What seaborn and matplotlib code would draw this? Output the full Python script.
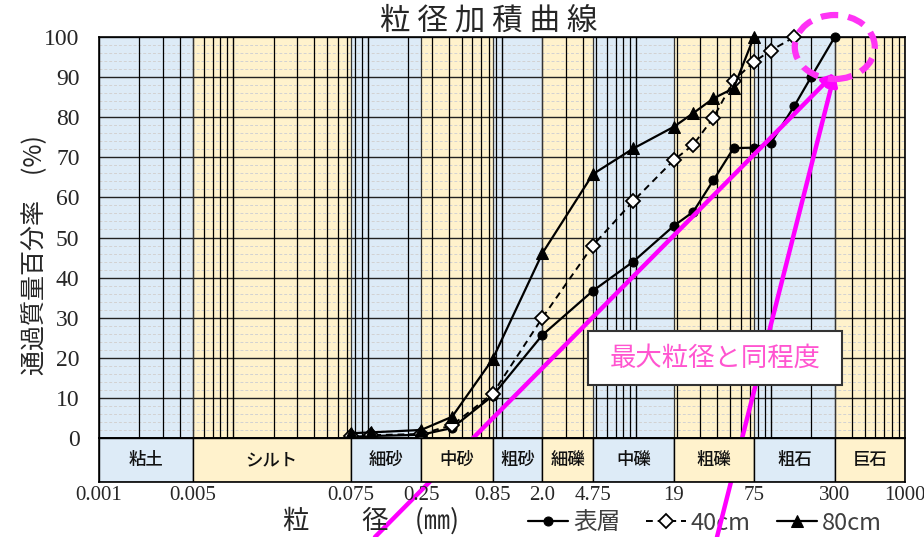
import matplotlib
matplotlib.use("Agg")
import matplotlib.pyplot as plt
import matplotlib.transforms as mtransforms
from matplotlib.patches import Ellipse, Rectangle
from matplotlib.ticker import LogLocator, MultipleLocator, NullFormatter, FixedLocator, FixedFormatter
import numpy as np
import pandas as pd
import seaborn as sns

# ---- data -------------------------------------------------------------
size_surface = [0.075, 0.106, 0.25, 0.425, 0.85, 2.0, 4.75, 9.5, 19, 26.5, 37.5, 53, 75, 100, 150, 200, 300]
pass_surface = [0.3, 0.5, 0.8, 2.5, 10.5, 25.7, 36.7, 44.0, 52.9, 56.4, 64.3, 72.3, 72.4, 73.5, 82.8, 90.0, 100]

size_40cm = [0.075, 0.106, 0.25, 0.425, 0.85, 2.0, 4.75, 9.5, 19, 26.5, 37.5, 53, 75, 100, 150]
pass_40cm = [0.5, 0.7, 1.0, 3.2, 11.0, 30.0, 48.0, 59.1, 69.3, 73.1, 79.9, 89.1, 93.8, 96.6, 100]

size_80cm = [0.075, 0.106, 0.25, 0.425, 0.85, 2.0, 4.75, 9.5, 19, 26.5, 37.5, 53, 75]
pass_80cm = [1.2, 1.4, 2.0, 5.3, 19.6, 46.1, 65.8, 72.2, 77.6, 81.0, 84.7, 87.2, 100]

series_names = ["表層", "40cm", "80cm"]

# soil classification bands
class_edges = [0.001, 0.005, 0.075, 0.25, 0.85, 2.0, 4.75, 19, 75, 300, 1000]
class_names = ["粘土", "シルト", "細砂", "中砂", "粗砂", "細礫", "中礫", "粗礫", "粗石", "巨石"]
edge_labels = ["0.001", "0.005", "0.075", "0.25", "0.85", "2.0", "4.75", "19", "75", "300", "1000"]

# ---- style ------------------------------------------------------------
sns.set_style("white")
plt.rcParams["font.family"] = ["Noto Sans CJK JP", "DejaVu Sans"]
SERIF = ["Liberation Serif", "DejaVu Serif"]

BLUE = "#DDEBF7"
YELLOW = "#FFF2CC"
band_colors = [BLUE if i % 2 == 0 else YELLOW for i in range(len(class_names))]
MAGENTA = "#FF00FF"

fig = plt.figure(figsize=(9.24, 5.37), dpi=100)
W, H = 924, 537
x0, x1 = 99, 905
y_top, y_zero, y_band = 37, 438, 482
ax = fig.add_axes([x0 / W, 1 - y_zero / H, (x1 - x0) / W, (y_zero - y_top) / H])
axb = fig.add_axes([x0 / W, 1 - y_band / H, (x1 - x0) / W, (y_band - y_zero) / H])

# ---- main chart -------------------------------------------------------
ax.set_xscale("log")
ax.set_xlim(class_edges[0], class_edges[-1])
ax.set_ylim(0, 100)

for lo, hi, c in zip(class_edges[:-1], class_edges[1:], band_colors):
    ax.axvspan(lo, hi, color=c, lw=0, zorder=0.1)

ax.xaxis.set_major_locator(LogLocator(base=10))
ax.xaxis.set_minor_locator(LogLocator(base=10, subs=np.arange(2, 10)))
ax.xaxis.set_minor_formatter(NullFormatter())
ax.yaxis.set_major_locator(MultipleLocator(10))
ax.yaxis.set_minor_locator(MultipleLocator(2))
ax.set_axisbelow(True)
# horizontal grid sits under the vertical log grid
ax.yaxis.set_zorder(0.3)
ax.xaxis.set_zorder(0.5)
ax.grid(which="minor", axis="y", color="#D2D2D2", lw=0.7, ls=(0, (3, 2)))
ax.grid(which="major", axis="y", color="#222222", lw=1.0)
ax.grid(which="major", axis="x", color="black", lw=1.0)
ax.grid(which="minor", axis="x", color="black", lw=0.9)
for e in class_edges[1:-1]:
    ax.axvline(e, color="#333333", lw=0.9, zorder=0.6)

ax.tick_params(axis="x", which="both", length=0, labelbottom=False)
ax.tick_params(axis="y", which="both", length=0, pad=14)
for lab in ax.get_yticklabels():
    lab.set_family(SERIF)
    lab.set_fontsize(17)
for s in ax.spines.values():
    s.set_color("black")
    s.set_linewidth(1.2)

frames = [
    pd.DataFrame({"粒径": size_surface, "通過率": pass_surface}),
    pd.DataFrame({"粒径": size_40cm, "通過率": pass_40cm}),
    pd.DataFrame({"粒径": size_80cm, "通過率": pass_80cm}),
]
styles = [
    dict(marker="o", markersize=6.5, markerfacecolor="black", markeredgecolor="black",
         linestyle="-", linewidth=1.6),
    dict(marker="D", markersize=7, markerfacecolor="white", markeredgecolor="black",
         markeredgewidth=1.3, linestyle=(0, (3.5, 2.5)), linewidth=1.4),
    dict(marker="^", markersize=8.5, markerfacecolor="black", markeredgecolor="black",
         linestyle="-", linewidth=1.6),
]
for df, name, st in zip(frames, series_names, styles):
    sns.lineplot(data=df, x="粒径", y="通過率", ax=ax, color="black", label=name,
                 clip_on=False, zorder=5, **st)

ax.set_xlabel("")
ax.set_ylabel("")

# ---- classification band ---------------------------------------------
axb.set_xscale("log")
axb.set_xlim(class_edges[0], class_edges[-1])
axb.set_ylim(0, 1)
for lo, hi, c, name in zip(class_edges[:-1], class_edges[1:], band_colors, class_names):
    axb.add_patch(Rectangle((lo, 0), hi - lo, 1, facecolor=c, edgecolor="black", lw=1.0))
    axb.text(np.sqrt(lo * hi), 0.5, name, ha="center", va="center", fontsize=12.5,
             fontweight="medium", color="#111111")
axb.xaxis.set_major_locator(FixedLocator(class_edges))
axb.xaxis.set_major_formatter(FixedFormatter(edge_labels))
axb.xaxis.set_minor_locator(FixedLocator([]))
axb.tick_params(axis="x", which="both", length=0, pad=3)
axb.tick_params(axis="y", which="both", left=False, labelleft=False)
for lab in axb.get_xticklabels():
    lab.set_family(SERIF)
    lab.set_fontsize(15)
for s in axb.spines.values():
    s.set_color("black")
    s.set_linewidth(1.2)

# ---- titles and axis labels ------------------------------------------
fig.text(489 / W, 1 - 21 / H, "粒 径 加 積 曲 線", ha="center", va="center", fontsize=22)
fig.text(35 / W, 1 - 255 / H, "通過質量百分率　(%)", ha="center", va="center",
         rotation=90, fontsize=18)
fig.text(283 / W, 1 - 521 / H, "粒　　径　(㎜)", ha="left", va="center", fontsize=19)

# ---- legend -----------------------------------------------------------
handles, labels = ax.get_legend_handles_labels()
ax.legend(handles, labels, loc="center left", bbox_to_anchor=(528 / W, 1 - 523 / H),
          bbox_transform=fig.transFigure, ncol=3, frameon=False, fontsize=17,
          handlelength=1.7, handletextpad=0.2, columnspacing=1.1, borderpad=0,
          borderaxespad=0, labelcolor="#404040")

# ---- callout: maximum particle size ------------------------------------
target = (300, 91)
for start_px in (375, 717):
    ax.annotate("", xy=target, xycoords="data",
                xytext=(start_px / W, 0.0), textcoords="figure fraction",
                arrowprops=dict(arrowstyle="-|>", color=MAGENTA, lw=3.2,
                                mutation_scale=17, shrinkA=0, shrinkB=0),
                annotation_clip=False, zorder=8)

ring_tf = fig.dpi_scale_trans + mtransforms.ScaledTranslation(300, 97.5, ax.transData)
ring = Ellipse((0, 0), 0.80, 0.64, transform=ring_tf, fill=False, edgecolor="#FF33F5",
               lw=4.5, linestyle=(0, (2.8, 1.6)), zorder=9, clip_on=False)
fig.add_artist(ring)

box_l, box_t, box_r, box_b = 588, 331, 842, 385
fig.add_artist(Rectangle((box_l / W, 1 - box_b / H), (box_r - box_l) / W, (box_b - box_t) / H,
                         transform=fig.transFigure, facecolor="white", edgecolor="#333333",
                         lw=1.5, zorder=10))
fig.text((box_l + box_r) / 2 / W, 1 - (box_t + box_b) / 2 / H, "最大粒径と同程度",
         ha="center", va="center", fontsize=19, color="#FF55D0", zorder=11)

fig.savefig("out.png", dpi=100)
